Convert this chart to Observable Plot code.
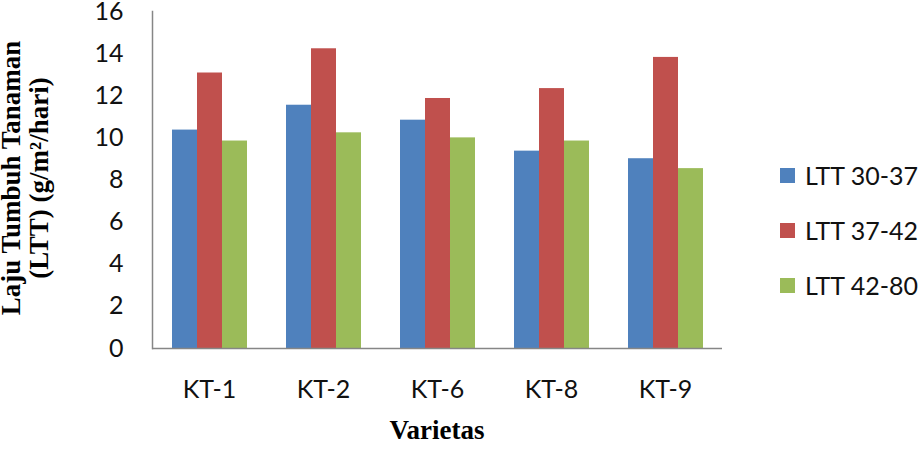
<!DOCTYPE html>
<html>
<head>
<meta charset="utf-8">
<script src="https://cdn.jsdelivr.net/npm/d3@7"></script>
<script src="https://cdn.jsdelivr.net/npm/@observablehq/plot@0.6"></script>
<style>
  html, body { margin: 0; padding: 0; background: #fff; }
  #wrap { position: relative; width: 922px; height: 459px; overflow: hidden; }
  #chart { position: absolute; left: 0; top: 0; }
  .ytitle {
    position: absolute; width: 400px; left: -175px; top: 150px; height: 56px;
    transform: rotate(-90deg); transform-origin: 200px 28px;
    font: bold 27px "Liberation Serif", "Times New Roman", serif; line-height: 28px;
    text-align: center; color: #000; white-space: nowrap;
  }
  .xtitle {
    position: absolute; width: 200px; left: 337px; top: 417px;
    font: bold 27px "Liberation Serif", "Times New Roman", serif; line-height: 27px;
    text-align: center; color: #000;
  }
  .legend { position: absolute; left: 780px; top: 0; font: 25px Lato, sans-serif; color: #111; }
  .legend .row { position: absolute; left: 0; height: 30px; display: flex; align-items: center; white-space: nowrap; }
  .legend .sw { width: 15px; height: 15px; margin-right: 10px; }
</style>
</head>
<body>
<div id="wrap">
  <div id="chart"></div>
  <div class="ytitle">Laju Tumbuh Tanaman<br>(LTT) (g/m²/hari)</div>
  <div class="xtitle">Varietas</div>
  <div class="legend" id="legend"></div>
</div>
<script>
const varieties = ["KT-1", "KT-2", "KT-6", "KT-8", "KT-9"];
const seriesNames = ["LTT 30-37", "LTT 37-42", "LTT 42-80"];
const ltt3037 = [10.37, 11.55, 10.84, 9.37, 9.01];
const ltt3742 = [13.08, 14.23, 11.87, 12.34, 13.82];
const ltt4280 = [9.85, 10.24, 10.00, 9.85, 8.54];
const yTicks = [0, 2, 4, 6, 8, 10, 12, 14, 16];
const colors = ["#4F81BD", "#C0504D", "#9BBB59"];

const seriesValues = [ltt3037, ltt3742, ltt4280];
const table = [];
varieties.forEach((v, i) => {
  seriesNames.forEach((s, j) => table.push({variety: v, series: s, value: seriesValues[j][i]}));
});

const plot = Plot.plot({
  width: 922,
  height: 459,
  marginLeft: 152,
  marginRight: 200,
  marginTop: 11,
  marginBottom: 111,
  style: {fontFamily: "Lato, sans-serif", fontSize: "25px", color: "#111", background: "transparent"},
  fx: {domain: varieties, padding: 0, label: null},
  x: {domain: seriesNames, paddingInner: 0, paddingOuter: 0.75, axis: null},
  y: {domain: [0, 16]},
  color: {domain: seriesNames, range: colors},
  marks: [
    Plot.barY(table, {fx: "variety", x: "series", y: "value", fill: "series"}),
    Plot.ruleY([0], {stroke: "#868686", strokeWidth: 1.5}),
    Plot.frame({anchor: "left", stroke: "#868686", strokeWidth: 1.5, facetAnchor: "left"}),
    Plot.axisY({ticks: yTicks, tickSize: 0, tickPadding: 29, label: null, fontSize: 25, fill: "#111"}),
    Plot.axisFx({anchor: "bottom", tickSize: 0, tickPadding: 32, label: null, fontSize: 25, fill: "#111"})
  ]
});
document.getElementById("chart").appendChild(plot);

const legend = document.getElementById("legend");
const rowCenters = [175, 230, 285];
seriesNames.forEach((s, i) => {
  const row = document.createElement("div");
  row.className = "row";
  row.style.top = (rowCenters[i] - 15) + "px";
  const sw = document.createElement("div");
  sw.className = "sw";
  sw.style.background = colors[i];
  const t = document.createElement("span");
  t.textContent = s;
  row.appendChild(sw);
  row.appendChild(t);
  legend.appendChild(row);
});
</script>
</body>
</html>
